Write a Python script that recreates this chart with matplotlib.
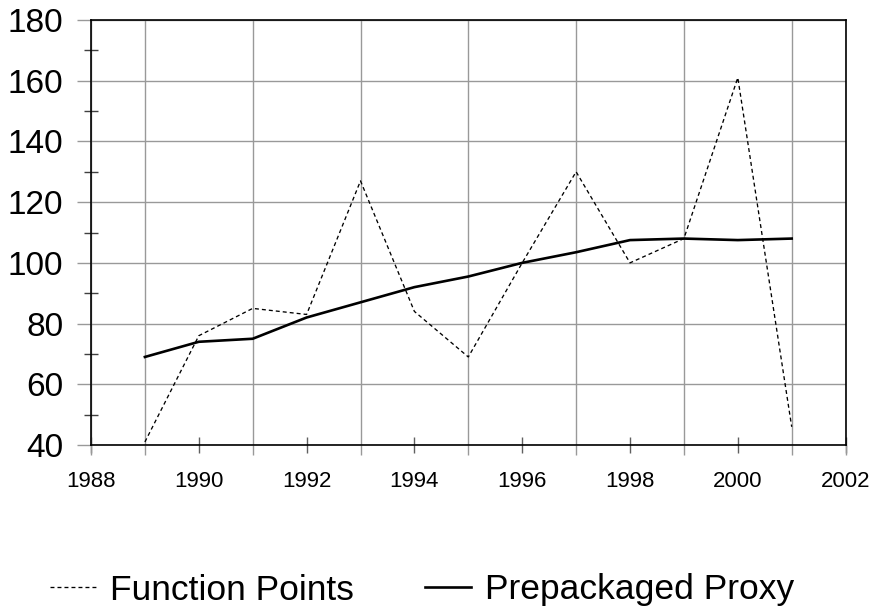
import matplotlib
matplotlib.use("Agg")
import matplotlib.pyplot as plt
from matplotlib.ticker import MultipleLocator, FixedLocator

plt.rcParams['font.family'] = ['Liberation Sans', 'DejaVu Sans']

# --- data ---
years = [1989, 1990, 1991, 1992, 1993, 1994, 1995, 1996, 1997, 1998, 1999, 2000, 2001]
function_points = [41, 76, 85, 83, 127, 84, 69, 100, 130, 100, 108, 161, 46]
prepackaged_proxy = [69, 74, 75, 82, 87, 92, 95.5, 100, 103.5, 107.5, 108, 107.5, 108]
grid_years = [1988, 1989, 1991, 1993, 1995, 1997, 1999, 2001, 2002]

fig = plt.figure(figsize=(8.7, 6.13), dpi=100)
ax = fig.add_axes([91 / 870, 1 - 445 / 613, (845.6 - 91) / 870, (445 - 20) / 613])

ax.plot(years, function_points, color='black', lw=0.95, linestyle=(0, (3, 2.3)),
        label='Function Points')
ax.plot(years, prepackaged_proxy, color='black', lw=1.9, label='Prepackaged Proxy')

ax.set_xlim(1988, 2002)
ax.set_ylim(40, 180)

# x: labels on even years, gridlines on odd years (plus the two ends)
ax.xaxis.remove_overlapping_locs = False
ax.xaxis.set_major_locator(MultipleLocator(2))
ax.xaxis.set_minor_locator(FixedLocator(grid_years))
ax.tick_params(axis='x', which='major', direction='inout', length=12, width=1,
               color='#606060', labelsize=16, pad=13)
ax.tick_params(axis='x', which='minor', direction='out', length=7, width=1,
               color='#999999')
ax.grid(True, axis='x', which='minor', color='#999999', lw=1)

# y: gridlines on 20s, small crossing ticks on the 10s in between
ax.yaxis.set_major_locator(MultipleLocator(20))
ax.yaxis.set_minor_locator(MultipleLocator(20, offset=10))
ax.tick_params(axis='y', which='major', direction='out', length=10, width=1,
               color='#999999', labelsize=24, pad=10)
ax.tick_params(axis='y', which='minor', direction='inout', length=10, width=1,
               color='#404040')
ax.grid(True, axis='y', which='major', color='#999999', lw=1)
ax.set_axisbelow(True)

for s in ax.spines.values():
    s.set_color('black')
    s.set_linewidth(1.2)

fig.legend(loc='center', bbox_to_anchor=(422 / 870, 1 - 590 / 613), ncol=2,
           frameon=False, fontsize=25.5, handlelength=1.3, handletextpad=0.4,
           columnspacing=2.0, borderpad=0, borderaxespad=0)

fig.savefig('out.png', dpi=100)
